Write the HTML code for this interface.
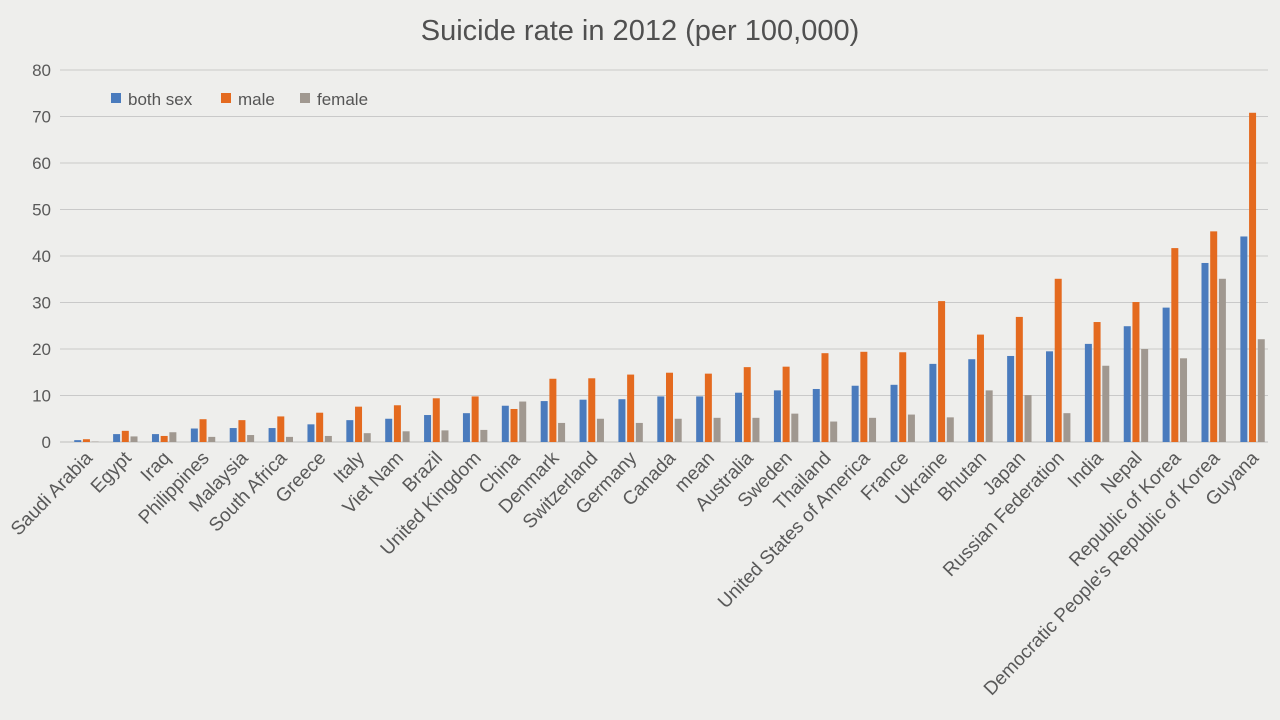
<!DOCTYPE html>
<html><head><meta charset="utf-8">
<style>
html,body{margin:0;padding:0;background:#eeeeec;}
svg{display:block;font-family:"Liberation Sans",sans-serif;}
</style></head>
<body>
<svg id="chart" width="1280" height="720">
<rect width="1280" height="720" fill="#eeeeec"/>
<text x="640" y="40" text-anchor="middle" font-size="29" fill="#505050">Suicide rate in 2012 (per 100,000)</text>
<g id="grid"></g><g id="bars"></g><g id="xlabels"></g>
<g>
<rect x="111" y="93" width="10" height="10" fill="#4a7bbd"/>
<text x="128" y="105" font-size="17" fill="#555">both sex</text>
<rect x="221" y="93" width="10" height="10" fill="#e46a1f"/>
<text x="238" y="105" font-size="17" fill="#555">male</text>
<rect x="300" y="93" width="10" height="10" fill="#a09890"/>
<text x="317" y="105" font-size="17" fill="#555">female</text>
</g>
</svg>
<script>
const categories=["Saudi Arabia","Egypt","Iraq","Philippines","Malaysia","South Africa","Greece","Italy","Viet Nam","Brazil","United Kingdom","China","Denmark","Switzerland","Germany","Canada","mean","Australia","Sweden","Thailand","United States of America","France","Ukraine","Bhutan","Japan","Russian Federation","India","Nepal","Republic of Korea","Democratic People's Republic of Korea","Guyana"];
const bothSex=[0.4,1.7,1.7,2.9,3.0,3.0,3.8,4.7,5.0,5.8,6.2,7.8,8.8,9.1,9.2,9.8,9.8,10.6,11.1,11.4,12.1,12.3,16.8,17.8,18.5,19.5,21.1,24.9,28.9,38.5,44.2];
const male=[0.6,2.4,1.3,4.9,4.7,5.5,6.3,7.6,7.9,9.4,9.8,7.1,13.6,13.7,14.5,14.9,14.7,16.1,16.2,19.1,19.4,19.3,30.3,23.1,26.9,35.1,25.8,30.1,41.7,45.3,70.8];
const female=[0.1,1.2,2.1,1.1,1.5,1.1,1.3,1.9,2.3,2.5,2.6,8.7,4.1,5.0,4.1,5.0,5.2,5.2,6.1,4.4,5.2,5.9,5.3,11.1,10.1,6.2,16.4,20.0,18.0,35.1,22.1];
const yTicks=[0,10,20,30,40,50,60,70,80];
const NS="http://www.w3.org/2000/svg";
const X0=67,X1=1272,Y0=442,Y1=70,YMAX=80;
const bw=(X1-X0)/categories.length;
function y(v){return Y0-(v/YMAX)*(Y0-Y1);}
function xc(i){return X0+bw*(i+0.5);}
function mk(tag,attrs,parent){const e=document.createElementNS(NS,tag);for(const k in attrs)e.setAttribute(k,attrs[k]);parent.appendChild(e);return e;}
const grid=document.getElementById('grid');
yTicks.forEach(t=>{
  const l=mk('line',{x1:60,x2:1268,y1:y(t),y2:y(t),stroke:t===0?'#bdbdbd':'#c9c9c9','stroke-width':1},grid);
  
  
  const tx=mk('text',{x:51,y:y(t)+6,'text-anchor':'end','font-size':17,fill:'#595959'},grid);
  tx.textContent=t;
  
  
});
const bars=document.getElementById('bars');
const series=[[bothSex,'#4a7bbd','both'],[male,'#e46a1f','male'],[female,'#a09890','female']];
const w=7,step=8.7;
categories.forEach((c,i)=>{
  series.forEach((s,j)=>{
    const v=s[0][i];
    const r=mk('rect',{x:xc(i)+(j-1)*step-w/2,y:y(v),width:w,height:Y0-y(v),fill:s[1]},bars);
    
    
  });
  const lb=mk('text',{'text-anchor':'end','font-size':19,fill:'#595959',transform:'translate('+(xc(i)+7)+','+(Y0+17)+') rotate(-46)'},document.getElementById('xlabels'));
  lb.textContent=c;
  
  
});
</script>
</body></html>
